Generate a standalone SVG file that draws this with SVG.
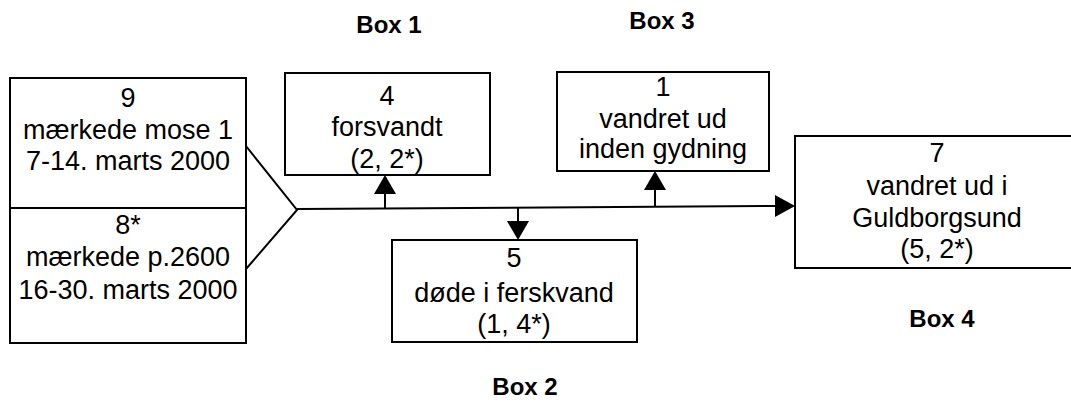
<svg xmlns="http://www.w3.org/2000/svg" width="1071" height="403" viewBox="0 0 1071 403">
<style>
.box{fill:#fff;stroke:#000;stroke-width:2}
.ln{fill:none;stroke:#000;stroke-width:2}
.t{font-family:"Liberation Sans",Arial,sans-serif;font-size:27px;text-anchor:middle;fill:#000}
.lbl{font-family:"Liberation Sans",Arial,sans-serif;font-size:24px;font-weight:bold;text-anchor:middle;fill:#000}
</style>
<rect width="1071" height="403" fill="#fff"/>
<g id="connectors">
<polyline class="ln" points="246,146 297,210 246,269"/>
<line class="ln" x1="297" y1="209" x2="777" y2="206"/>
<path d="M775,195 L795,206 L775,217 Z" fill="#000"/>
<line class="ln" x1="385" y1="209" x2="385" y2="192"/>
<path d="M374,194 L385,175 L396,194 Z" fill="#000"/>
<line class="ln" x1="655" y1="207" x2="655" y2="188"/>
<path d="M644,190 L655,171 L666,190 Z" fill="#000"/>
<line class="ln" x1="518" y1="208" x2="518" y2="222"/>
<path d="M507,221 L518,240 L529,221 Z" fill="#000"/>
</g>
<g id="start">
<rect class="box" x="10" y="78" width="236" height="265"/>
<line class="ln" x1="10" y1="208" x2="246" y2="208"/>
<text class="t" x="128" y="107">9</text>
<text class="t" x="128" y="139">mærkede mose 1</text>
<text class="t" x="128" y="170">7-14. marts 2000</text>
<text class="t" x="128" y="234">8*</text>
<text class="t" x="128" y="266">mærkede p.2600</text>
<text class="t" x="128" y="299">16-30. marts 2000</text>
</g>
<g id="box1">
<rect class="box" x="285" y="73" width="205" height="102"/>
<text class="t" x="387" y="105">4</text>
<text class="t" x="387" y="136">forsvandt</text>
<text class="t" x="387" y="168">(2, 2*)</text>
<text class="lbl" x="389" y="33">Box 1</text>
</g>
<g id="box3">
<rect class="box" x="557" y="72" width="212" height="99"/>
<text class="t" x="663" y="96">1</text>
<text class="t" x="663" y="128">vandret ud</text>
<text class="t" x="663" y="158">inden gydning</text>
<text class="lbl" x="662" y="29">Box 3</text>
</g>
<g id="box2">
<rect class="box" x="392" y="240" width="245" height="102"/>
<text class="t" x="514" y="267">5</text>
<text class="t" x="514" y="302">døde i ferskvand</text>
<text class="t" x="514" y="333">(1, 4*)</text>
<text class="lbl" x="525" y="395">Box 2</text>
</g>
<g id="box4">
<rect class="box" x="795" y="136" width="300" height="132"/>
<text class="t" x="937" y="162">7</text>
<text class="t" x="937" y="195">vandret ud i</text>
<text class="t" x="937" y="227">Guldborgsund</text>
<text class="t" x="937" y="258">(5, 2*)</text>
<text class="lbl" x="942" y="327">Box 4</text>
</g>
</svg>
